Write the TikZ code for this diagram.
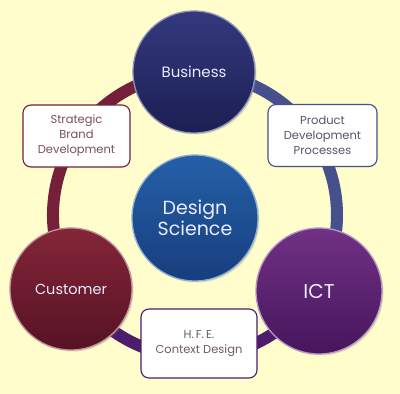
\documentclass[tikz,border=0pt]{standalone}
\usepackage{fontspec}
\setmainfont{Poppins}
\usetikzlibrary{shadows}
\definecolor{bg}{HTML}{FFFDCC}
\definecolor{busT}{HTML}{34397E}
\definecolor{busB}{HTML}{1C1F52}
\definecolor{dsT}{HTML}{2560A8}
\definecolor{dsB}{HTML}{173E7E}
\definecolor{cusT}{HTML}{842639}
\definecolor{cusB}{HTML}{561224}
\definecolor{ictT}{HTML}{713185}
\definecolor{ictB}{HTML}{46165C}
\definecolor{ringBI}{HTML}{45508C}
\definecolor{ringIC}{HTML}{4E1C6C}
\definecolor{ringCB}{HTML}{74203A}
\definecolor{txtS}{HTML}{7A4F5E}
\definecolor{txtP}{HTML}{55546A}
\definecolor{txtH}{HTML}{6E5A68}
\tikzset{
  bigcirc/.style={circle, minimum size=122pt, inner sep=0pt, align=center,
    text=white!92!blue, line width=1.3pt,
    drop shadow={opacity=0.25, shadow xshift=1.5pt, shadow yshift=-1.5pt}},
  infobox/.style={rounded corners=8pt, fill=white, line width=1.1pt,
    minimum height=62pt, align=center, font=\fontsize{11.5}{15}\selectfont},
  ringarc/.style={line width=12pt}
}
\begin{document}
\begin{tikzpicture}[x=1pt,y=-1pt]
\fill[bg] (0,0) rectangle (400,394);
\useasboundingbox (0,0) rectangle (400,394);
\coordinate (rc) at (195,215);
% ring (angles mirrored because y points down)
\draw[ringarc, ringBI] ([shift={(-90:142)}]rc) arc[start angle=-90, end angle=31.5, radius=142];
\draw[ringarc, ringIC] ([shift={(31.5:142)}]rc) arc[start angle=31.5, end angle=149, radius=142];
\draw[ringarc, ringCB] ([shift={(149:142)}]rc) arc[start angle=149, end angle=270, radius=142];
% boxes
\node[infobox, draw=ringCB, text=txtS, minimum width=107pt] (sbd) at (76.5,136) {Strategic\\Brand\\Development};
\node[infobox, draw=ringBI, text=txtP, minimum width=109pt] (pdp) at (322.5,135.5) {Product\\Development\\Processes};
\node[infobox, draw=ringIC, text=txtH, minimum width=116pt, minimum height=69pt] (hfe) at (199,343.5) {H.\,F.\,E.\\Context Design};
% circles
\node[bigcirc, top color=busT, bottom color=busB, draw=busT!55!white, font=\fontsize{15}{18}\selectfont] (bus) at (194,72) {Business};
\node[bigcirc, minimum size=126pt, top color=dsT, bottom color=dsB, draw=dsT!50!white, font=\fontsize{19}{21}\selectfont] (ds) at (195,218) {Design\\Science};
\node[bigcirc, top color=cusT, bottom color=cusB, draw=cusT!50!white, font=\fontsize{14.5}{17}\selectfont] (cus) at (71,289) {Customer};
\node[bigcirc, minimum size=126pt, top color=ictT, bottom color=ictB, draw=ictT!50!white, font=\fontsize{20}{22}\selectfont] (ict) at (319,291) {ICT};
\end{tikzpicture}
\end{document}
